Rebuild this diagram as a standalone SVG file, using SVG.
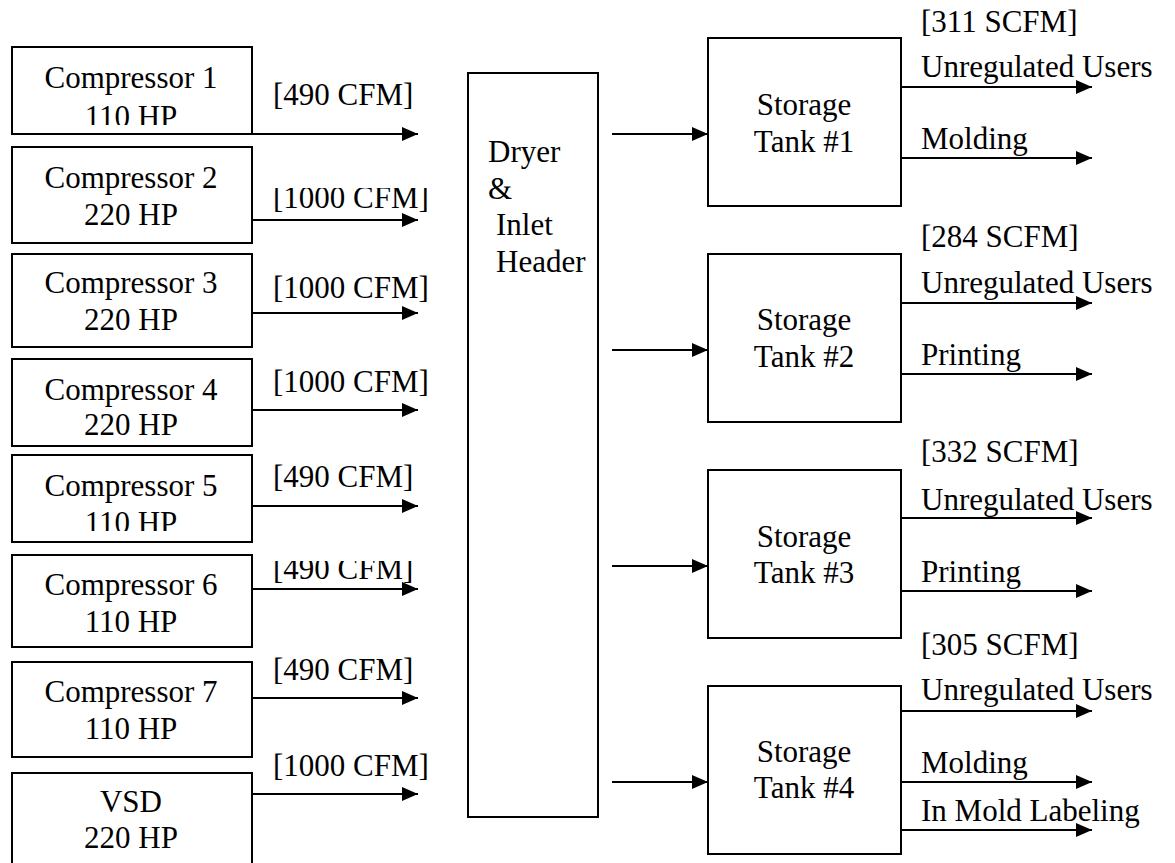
<svg xmlns="http://www.w3.org/2000/svg" width="1175" height="863" viewBox="0 0 1175 863">
<style>
text{font-family:"Liberation Serif","Times New Roman",serif;font-size:31px;fill:#000}
.c{text-anchor:middle}
.box{fill:#fff;stroke:#000;stroke-width:2}
.ln{stroke:#000;stroke-width:2;fill:none;marker-end:url(#ah)}
</style>
<defs>
<marker id="ah" markerUnits="userSpaceOnUse" markerWidth="16" markerHeight="14" refX="16" refY="7" orient="auto">
<path d="M0,0 L16,7 L0,14 Z" fill="#000"/>
</marker>
<clipPath id="clip1"><rect x="0" y="0" width="260" height="125"/></clipPath>
<clipPath id="clip5"><rect x="0" y="450" width="260" height="81"/></clipPath>
<clipPath id="clipL2"><rect x="260" y="188" width="200" height="40"/></clipPath>
<clipPath id="clipL6"><rect x="260" y="561" width="200" height="40"/></clipPath>
</defs>
<rect width="1175" height="863" fill="#fff"/>

<g id="comp1"><rect class="box" x="12" y="47" width="240" height="87"/><text class="c" x="131" y="88">Compressor 1</text><text class="c" x="131" y="127" clip-path="url(#clip1)">110 HP</text></g>
<g id="comp2"><rect class="box" x="12" y="147" width="240" height="96"/><text class="c" x="131" y="188">Compressor 2</text><text class="c" x="131" y="225">220 HP</text></g>
<g id="comp3"><rect class="box" x="12" y="254" width="240" height="93"/><text class="c" x="131" y="293">Compressor 3</text><text class="c" x="131" y="330">220 HP</text></g>
<g id="comp4"><rect class="box" x="12" y="359" width="240" height="87"/><text class="c" x="131" y="400">Compressor 4</text><text class="c" x="131" y="435">220 HP</text></g>
<g id="comp5"><rect class="box" x="12" y="455" width="240" height="87"/><text class="c" x="131" y="496">Compressor 5</text><text class="c" x="131" y="533" clip-path="url(#clip5)">110 HP</text></g>
<g id="comp6"><rect class="box" x="12" y="555" width="240" height="92"/><text class="c" x="131" y="595">Compressor 6</text><text class="c" x="131" y="632">110 HP</text></g>
<g id="comp7"><rect class="box" x="12" y="662" width="240" height="95"/><text class="c" x="131" y="702">Compressor 7</text><text class="c" x="131" y="739">110 HP</text></g>
<g id="vsd"><rect class="box" x="12" y="773" width="240" height="100"/><text class="c" x="131" y="812">VSD</text><text class="c" x="131" y="848">220 HP</text></g>

<g id="dryer"><rect class="box" x="468" y="73" width="130" height="744"/><text x="488" y="162">Dryer</text><text x="488" y="199">&amp;</text><text x="496" y="235">Inlet</text><text x="496" y="272">Header</text></g>

<g id="tank1"><rect class="box" x="708" y="38" width="193" height="168"/><text class="c" x="804" y="115">Storage</text><text class="c" x="804" y="152">Tank #1</text></g>
<g id="tank2"><rect class="box" x="708" y="254" width="193" height="168"/><text class="c" x="804" y="330">Storage</text><text class="c" x="804" y="367">Tank #2</text></g>
<g id="tank3"><rect class="box" x="708" y="470" width="193" height="168"/><text class="c" x="804" y="547">Storage</text><text class="c" x="804" y="583">Tank #3</text></g>
<g id="tank4"><rect class="box" x="708" y="686" width="193" height="168"/><text class="c" x="804" y="762">Storage</text><text class="c" x="804" y="798">Tank #4</text></g>

<g id="labels">
<text x="273" y="105">[490 CFM]</text>
<text x="273" y="208" clip-path="url(#clipL2)">[1000 CFM]</text>
<text x="273" y="298">[1000 CFM]</text>
<text x="273" y="392">[1000 CFM]</text>
<text x="273" y="487">[490 CFM]</text>
<text x="273" y="579" clip-path="url(#clipL6)">[490 CFM]</text>
<text x="273" y="680">[490 CFM]</text>
<text x="273" y="776">[1000 CFM]</text>
<text x="921" y="32">[311 SCFM]</text>
<text x="921" y="77">Unregulated Users</text>
<text x="921" y="149">Molding</text>
<text x="921" y="247">[284 SCFM]</text>
<text x="921" y="293">Unregulated Users</text>
<text x="921" y="365">Printing</text>
<text x="921" y="462">[332 SCFM]</text>
<text x="921" y="510">Unregulated Users</text>
<text x="921" y="582">Printing</text>
<text x="921" y="655">[305 SCFM]</text>
<text x="921" y="700">Unregulated Users</text>
<text x="921" y="773">Molding</text>
<text x="921" y="821">In Mold Labeling</text>
</g>

<g id="connectors">
<line class="ln" x1="252" y1="134" x2="418" y2="134"/>
<line class="ln" x1="252" y1="220" x2="418" y2="220"/>
<line class="ln" x1="252" y1="313" x2="418" y2="313"/>
<line class="ln" x1="252" y1="410" x2="418" y2="410"/>
<line class="ln" x1="252" y1="506" x2="418" y2="506"/>
<line class="ln" x1="252" y1="589" x2="418" y2="589"/>
<line class="ln" x1="252" y1="698" x2="418" y2="698"/>
<line class="ln" x1="252" y1="794" x2="418" y2="794"/>
<line class="ln" x1="612" y1="134" x2="708" y2="134"/>
<line class="ln" x1="612" y1="350" x2="708" y2="350"/>
<line class="ln" x1="612" y1="566" x2="708" y2="566"/>
<line class="ln" x1="612" y1="782" x2="708" y2="782"/>
<line class="ln" x1="901" y1="87" x2="1092" y2="87"/>
<line class="ln" x1="901" y1="158" x2="1092" y2="158"/>
<line class="ln" x1="901" y1="303" x2="1092" y2="303"/>
<line class="ln" x1="901" y1="374" x2="1092" y2="374"/>
<line class="ln" x1="901" y1="518" x2="1092" y2="518"/>
<line class="ln" x1="901" y1="591" x2="1092" y2="591"/>
<line class="ln" x1="901" y1="711" x2="1092" y2="711"/>
<line class="ln" x1="901" y1="782" x2="1092" y2="782"/>
<line class="ln" x1="901" y1="830" x2="1092" y2="830"/>
</g>
</svg>
